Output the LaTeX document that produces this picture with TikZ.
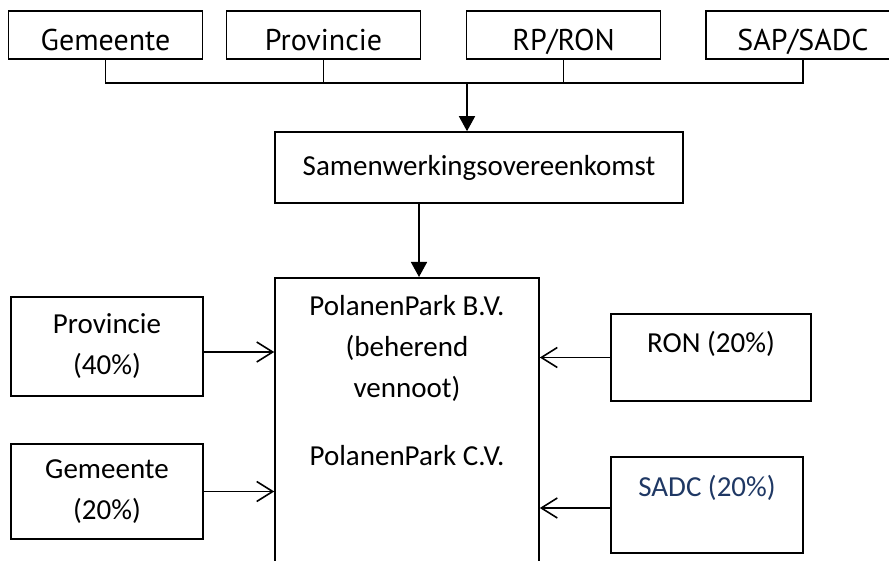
\documentclass[tikz,border=0pt]{standalone}
\usepackage{fontspec}
\setmainfont{Carlito}
\newfontfamily\topfont{PT Sans}
\usetikzlibrary{arrows.meta,positioning}
\definecolor{sadcblue}{HTML}{1F3864}

\tikzset{
  box/.style={draw, line width=1.6pt, rectangle, inner sep=0pt, align=center},
  topbox/.style={box, minimum width=194, minimum height=48, text height=31pt, text depth=0pt,
    font=\topfont\fontsize{30}{36}\selectfont},
  sidebox/.style={box, font=\fontsize{29}{41}\selectfont},
  feed/.style={line width=1.6pt, -{Triangle[length=15pt,width=16pt]}},
  share/.style={line width=1.6pt, -{Straight Barb[length=16pt,width=20pt]}},
}

\begin{document}
\begin{tikzpicture}[x=1pt,y=-1pt]
            \useasboundingbox (0,0) rectangle (889,561);
            % partners on top
            \node[topbox] (gem) at (105.5,35) {Gemeente};
            \node[topbox] (prov) at (323.5,35) {Provincie};
            \node[topbox] (rp) at (563.5,35) {RP/RON};
            \node[topbox] (sap) at (803,35) {SAP/SADC};
            \coordinate (bus) at (467,83);
            \draw[line width=1.6pt] (gem.south) -- (gem.south |- bus) -- (sap.south |- bus) -- (sap.south);
            \draw[line width=1.6pt] (prov.south) -- (prov.south |- bus);
            \draw[line width=1.6pt] (rp.south) -- (rp.south |- bus);
            \node[sidebox, minimum width=408, minimum height=71] (deal) at (479,167.5) {Samenwerkingsovereenkomst};
            \draw[feed] (bus) -- (bus |- deal.north);
            % the company
            \node[box, minimum width=264, minimum height=300, anchor=north] (park) at (407,277) {};
            \node[anchor=north, align=center, inner sep=0pt, font=\fontsize{29}{41}\selectfont] (parktxt) at (407,295)
              {PolanenPark B.V.\\(beherend\\vennoot)\\[27pt]PolanenPark C.V.};
            \draw[feed] (deal.south -| 419,0) -- (park.north -| 419,0);
            % shareholders
            \node[sidebox, minimum width=192, minimum height=99] (prov40) at (107,346.5) {Provincie\\(40\%)};
            \node[sidebox, minimum width=192, minimum height=95] (gem20) at (107,491.5) {Gemeente\\(20\%)};
            \node[sidebox, minimum width=200, minimum height=87, text depth=31pt] (ron) at (711,357.5) {RON (20\%)};
            \node[sidebox, minimum width=192, minimum height=96, text depth=38pt, text=sadcblue] (sadc) at (707,505) {SADC (20\%)};
            \draw[share] ([yshift=-5.5]prov40.east) -- ([yshift=-5.5]prov40.east -| park.west);
            \draw[share] (gem20.east) -- (gem20.east -| park.west);
            \draw[share] (ron.west) -- (ron.west -| park.east);
            \draw[share] ([yshift=-3]sadc.west) -- ([yshift=-3]sadc.west -| park.east);
        \end{tikzpicture}
\end{document}
